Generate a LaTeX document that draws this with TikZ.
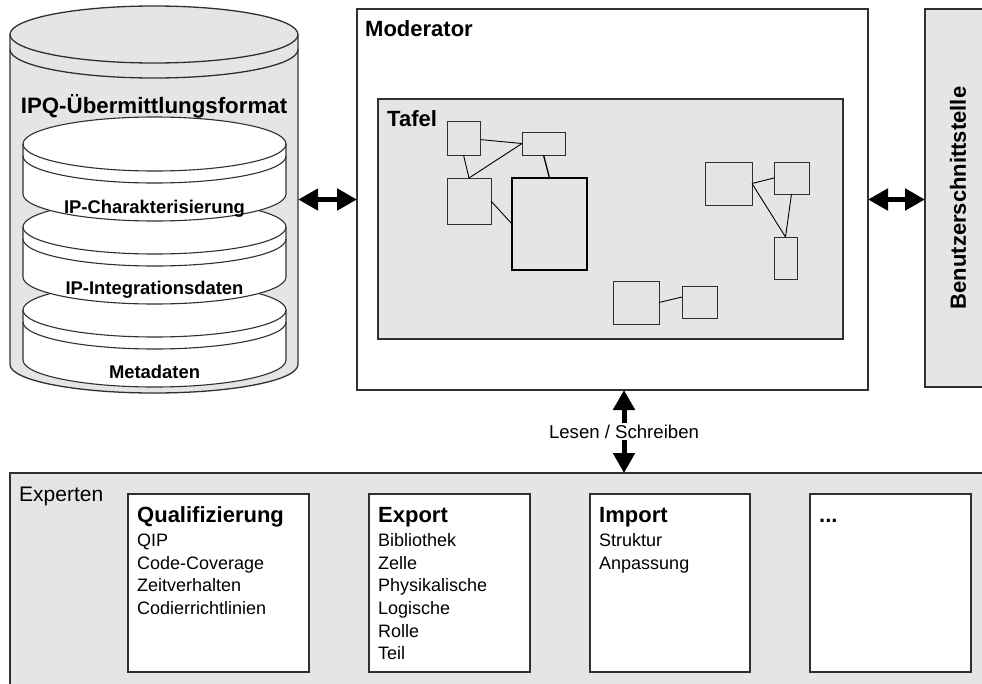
\documentclass[tikz,border=0pt]{standalone}
\usepackage{fontspec}
\setmainfont{Liberation Sans}
\usetikzlibrary{arrows.meta,fit,calc}
\definecolor{panel}{HTML}{E5E5E5}
\definecolor{edge}{HTML}{303030}
\tikzset{
  frame/.style={draw=edge, line width=1.3pt, inner sep=0pt, outer sep=0pt},
  grayframe/.style={frame, fill=panel},
  whiteframe/.style={frame, fill=white},
  tbox/.style={draw=edge, line width=1pt, inner sep=0pt, outer sep=0pt},
  link/.style={draw=black, line width=0.9pt},
  bigarrow/.style={line width=5pt, {Triangle[length=20pt,width=21pt]}-{Triangle[length=20pt,width=21pt]}},
  ttl/.style={font=\fontsize{22}{26}\selectfont\bfseries, inner sep=0pt, anchor=base west},
  itm/.style={font=\fontsize{18}{22}\selectfont, inner sep=0pt, anchor=base west},
  cyllabel/.style={font=\fontsize{18.4}{22}\selectfont\bfseries, inner sep=0pt},
  cylline/.style={draw=edge, line width=1.1pt},
}
\begin{document}
\begin{tikzpicture}[x=1pt,y=-1pt]
\useasboundingbox (0,0) rectangle (982,683);
\clip (0,0) rectangle (982,683);

% ---------- outer cylinder ----------
\filldraw[fill=panel, draw=edge, line width=1.3pt] (10,34.5) -- (10,364.5)
  arc[start angle=180,end angle=0,x radius=144,y radius=28.5] -- (298,34.5)
  arc[start angle=0,end angle=-180,x radius=144,y radius=28.5] -- cycle;
\draw[edge, line width=1.3pt] (10,34.5) arc[start angle=180,end angle=0,x radius=144,y radius=28.5];
\draw[edge, line width=1.3pt] (10,49.5) arc[start angle=180,end angle=0,x radius=144,y radius=28.5];
\node[fit={(10,6)(298,393)}, inner sep=0pt] (cyl) {};
\node[font=\fontsize{22.3}{26}\selectfont\bfseries, inner sep=0pt] (cylt) at (154,106) {IPQ-Übermittlungsformat};

% ---------- inner cylinders ----------
\foreach \c in {310,227,144} {
  \filldraw[fill=white, cylline] (23,\c) -- (23,{\c+50})
    arc[start angle=180,end angle=0,x radius=131.5,y radius=27] -- (286,\c)
    arc[start angle=0,end angle=-180,x radius=131.5,y radius=27] -- cycle;
  \draw[cylline] (23,\c) arc[start angle=180,end angle=0,x radius=131.5,y radius=27];
  \draw[cylline] (23,{\c+12}) arc[start angle=180,end angle=0,x radius=131.5,y radius=27];
}
\node[cyllabel] (c1) at (154.5,209) {IP-Charakterisierung};
\node[cyllabel] (c2) at (154.5,290) {IP-Integrationsdaten};
\node[cyllabel] (c3) at (154.5,372) {Metadaten};

% ---------- moderator ----------
\node[whiteframe, fit={(357,9)(868,390)}] (mod) {};
\node[ttl] (modt) at (365,36) {Moderator};
\node[grayframe, fit={(378,99)(843,339)}] (tafel) {};
\node[ttl] (tafelt) at (387,126.5) {Tafel};

\node[tbox, fit={(447,121)(480,155)}] (b1) {};
\node[tbox, fit={(522,132)(565,155)}] (b2) {};
\node[tbox, fit={(447,178)(491,224)}] (b3) {};
\node[tbox, line width=1.5pt, draw=black, fit={(512,178)(587,270)}] (b4) {};
\node[tbox, fit={(705,162)(752,205)}] (b5) {};
\node[tbox, fit={(774,162)(809,194)}] (b6) {};
\node[tbox, fit={(774,237)(797,279)}] (b7) {};
\node[tbox, fit={(613,281)(659,324)}] (b8) {};
\node[tbox, fit={(682,286)(717,318)}] (b9) {};

\draw[link] (b1) -- (b2.west);
\draw[link] (b1.south) -- (b3.north);
\draw[link] (b3.north) -- (b2.west);
\draw[link, line width=1.3pt] (b2.south) -- (b4.north);
\draw[link] (b3.east) -- (b4.west);
\draw[link] (b5.east) -- (b6.west);
\draw[link] (b5.east) -- (b7.north);
\draw[link] (b6.south) -- (b7.north);
\draw[link] (b8.east) -- ($(b9.west)+(0,-5)$);

% ---------- user interface ----------
\node[grayframe, fit={(925,9)(995,387)}] (ui) {};
\node[font=\fontsize{22}{26}\selectfont\bfseries, inner sep=0pt, rotate=90] (uit) at (958,198) {Benutzerschnittstelle};

% ---------- experts ----------
\node[grayframe, fit={(10,473)(995,700)}] (exp) {};
\node[itm, font=\fontsize{21}{24}\selectfont] (expt) at (19,501) {Experten};

\node[whiteframe, fit={(128,494)(309,672)}] (e1) {};
\node[whiteframe, fit={(369,494)(530,672)}] (e2) {};
\node[whiteframe, fit={(590,494)(750,672)}] (e3) {};
\node[whiteframe, fit={(810,494)(971,672)}] (e4) {};

\node[ttl] (e1t) at (137,522.5) {Qualifizierung};
\foreach \t [count=\i from 0] in {QIP,Code-Coverage,Zeitverhalten,Codierrichtlinien}
  \node[itm] (e1i\i) at (137,{546.7+22.6*\i}) {\t};
\node[ttl] (e2t) at (378,522.5) {Export};
\foreach \t [count=\i from 0] in {Bibliothek,Zelle,Physikalische,Logische,Rolle,Teil}
  \node[itm] (e2i\i) at (378,{546.7+22.6*\i}) {\t};
\node[ttl] (e3t) at (599,522.5) {Import};
\foreach \t [count=\i from 0] in {Struktur,Anpassung}
  \node[itm] (e3i\i) at (599,{546.7+22.6*\i}) {\t};
\node[ttl] (e4t) at (819,522.5) {...};

% ---------- arrows ----------
\draw[bigarrow] (cyl.east) -- (cyl.east -| mod.west);
\draw[bigarrow] (mod.east) -- (mod.east -| ui.west);
\coordinate (rw) at (624,0);
\draw[bigarrow] (mod.south -| rw) -- node[fill=white, inner sep=2pt, font=\fontsize{18.6}{22}\selectfont] (rwl) {Lesen / Schreiben} (exp.north -| rw);
\end{tikzpicture}
\end{document}
